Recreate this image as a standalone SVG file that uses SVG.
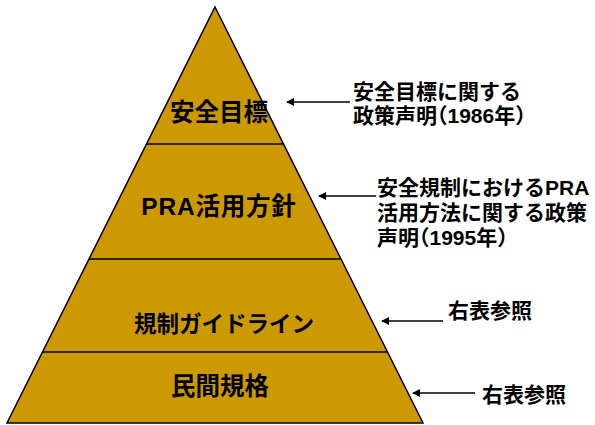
<svg xmlns="http://www.w3.org/2000/svg" width="595" height="425" viewBox="0 0 595 425">
<defs>
<style>
.layer{fill:#CC9900;stroke:#000;stroke-width:1.5;stroke-linejoin:miter}
.div{stroke:#000;stroke-width:1.5;fill:none}
.lbl{font-family:"Liberation Sans","Noto Sans CJK JP",sans-serif;font-weight:bold;fill:#000;text-anchor:middle}
.note{font-family:"Liberation Sans","Noto Sans CJK JP",sans-serif;font-weight:bold;font-size:21px;fill:#000}
.hp{font-feature-settings:"halt" 1}
.arr{stroke:#000;stroke-width:1.5;fill:none;marker-end:url(#ah)}
</style>
<marker id="ah" viewBox="0 0 10 10" refX="9" refY="5" markerWidth="8" markerHeight="8" markerUnits="userSpaceOnUse" orient="auto">
<path d="M0,0 L10,5 L0,10 Z" fill="#000"/>
</marker>
</defs>
<g id="pyramid">
<path class="layer" d="M215,7 L423,423 L7,423 Z"/>
</g>
<g id="dividers">
<line class="div" x1="146.5" y1="144" x2="283.5" y2="144"/>
<line class="div" x1="89" y1="259" x2="341" y2="259"/>
<line class="div" x1="42.5" y1="352" x2="387.5" y2="352"/>
</g>
<g id="node-safety-goal">
<text class="lbl" x="219" y="121" font-size="24.5">安全目標</text>
</g>
<g id="node-pra">
<text class="lbl" x="219" y="215" font-size="24.5" letter-spacing="0.8">PRA活用方針</text>
</g>
<g id="node-guideline">
<text class="lbl" x="224" y="332" font-size="22.5">規制ガイドライン</text>
</g>
<g id="node-standard">
<text class="lbl" x="220" y="395" font-size="24.5">民間規格</text>
</g>
<g id="connectors">
<line class="arr" x1="350" y1="102" x2="287" y2="102"/>
<line class="arr" x1="376" y1="196" x2="319" y2="196"/>
<line class="arr" x1="443" y1="321" x2="382" y2="321"/>
<line class="arr" x1="475" y1="393" x2="413" y2="393"/>
</g>
<g id="note-1986">
<text class="note" x="353" y="99">安全目標に関する</text>
<text class="note hp" x="353" y="123">政策声明（1986年）</text>
</g>
<g id="note-1995">
<text class="note" x="377" y="195">安全規制におけるPRA</text>
<text class="note" x="377" y="220">活用方法に関する政策</text>
<text class="note hp" x="377" y="245">声明（1995年）</text>
</g>
<g id="note-ref1">
<text class="note" x="448" y="318" font-size="21.5">右表参照</text>
</g>
<g id="note-ref2">
<text class="note" x="482" y="402" font-size="21.5">右表参照</text>
</g>
</svg>
